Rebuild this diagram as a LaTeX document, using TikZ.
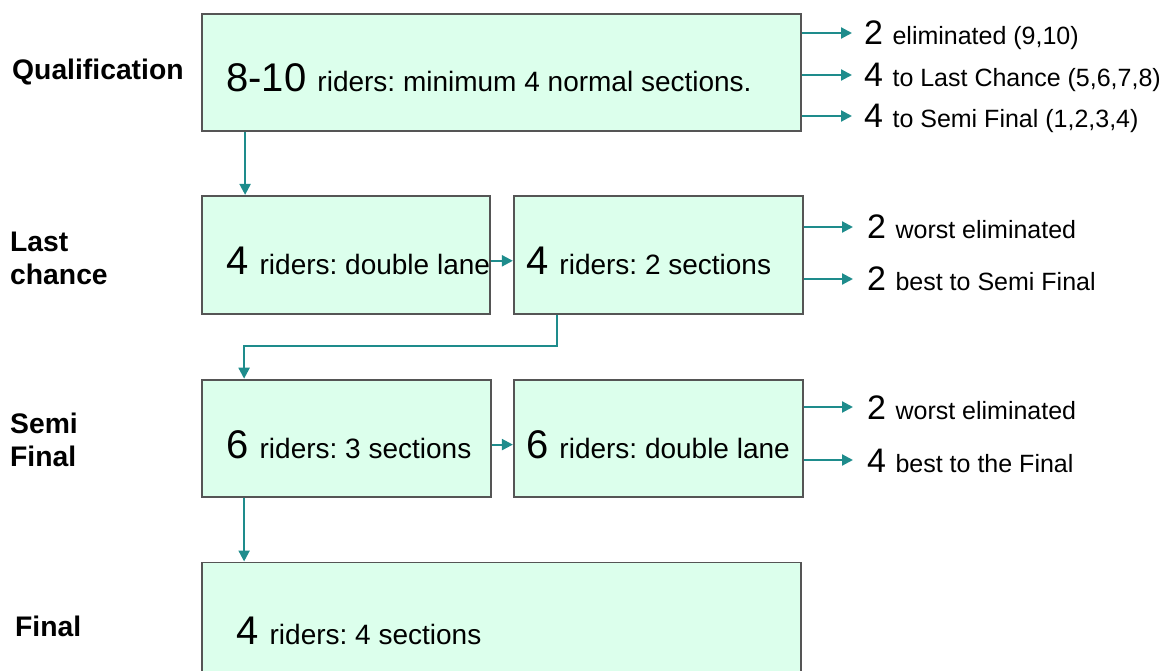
\documentclass[tikz,border=0pt]{standalone}
\usepackage{fontspec}
\setmainfont{Liberation Sans}
\usetikzlibrary{arrows.meta, positioning}
\definecolor{stagefill}{RGB}{220,255,236}
\definecolor{stageline}{RGB}{85,85,85}
\definecolor{flowteal}{RGB}{30,140,140}
\newcommand{\bignum}[1]{{\fontsize{40}{44}\selectfont #1 }}
\newcommand{\outnum}[1]{{\fontsize{34}{38}\selectfont #1 }}
\frenchspacing

\begin{document}
\begin{tikzpicture}[
        x=1pt, y=-1pt,
        stage/.style={rectangle, draw=stageline, fill=stagefill, line width=1.8pt, minimum height=117pt, inner sep=0pt},
        stagetxt/.style={anchor=west, inner sep=0pt, font=\fontsize{28}{32}\selectfont},
        outlbl/.style={anchor=west, inner sep=0pt, text height=24pt, text depth=0pt, font=\fontsize{25}{28}\selectfont},
        rowlbl/.style={anchor=west, inner sep=0pt, align=left, font=\bfseries\fontsize{28.3}{33}\selectfont},
        flow/.style={-{Triangle[length=11pt, width=11pt]}, line width=2.2pt, flowteal}
    ]
        \useasboundingbox (0,0) rectangle (1171,671);
        \clip (0,0) rectangle (1171,671);

        % stage boxes
        \node[stage, minimum width=599pt] (qual) at (501.5,72.5) {};
        \node[stage, minimum width=288pt, minimum height=118pt, below=63pt of qual.south west, anchor=north west] (lc1) {};
        \node[stage, minimum width=289pt, minimum height=118pt, right=22pt of lc1] (lc2) {};
        \node[stage, minimum width=289pt, below=64pt of lc1.south west, anchor=north west] (semi1) {};
        \node[stage, minimum width=289pt, right=21pt of semi1] (semi2) {};
        \node[stage, minimum width=599pt, minimum height=150pt, below=64pt of semi1.south west, anchor=north west] (final) {};

        % texts in the boxes
        \node[stagetxt] (qualtxt) at ([xshift=25pt, yshift=-5.5pt]qual.west) {\bignum{8-10}riders: minimum 4 normal sections.};
        \node[stagetxt] (lc1txt) at ([xshift=25pt, yshift=-6pt]lc1.west) {\bignum{4}riders: double lane};
        \node[stagetxt] (lc2txt) at ([xshift=13pt, yshift=-6pt]lc2.west) {\bignum{4}riders: 2 sections};
        \node[stagetxt] (semi1txt) at ([xshift=25pt, yshift=-6.5pt]semi1.west) {\bignum{6}riders: 3 sections};
        \node[stagetxt] (semi2txt) at ([xshift=13pt, yshift=-6.5pt]semi2.west) {\bignum{6}riders: double lane};
        \node[stagetxt] (finaltxt) at ([xshift=35pt, yshift=-69pt]final.north west) {\bignum{4}riders: 4 sections};

        % row labels
        \node[rowlbl] (rowqual) at (12,72) {Qualification};
        \node[rowlbl] (rowlc) at (10,258) {Last\\chance};
        \node[rowlbl] (rowsemi) at (10,440) {Semi\\Final};
        \node[rowlbl] (rowfinal) at (15,626) {Final};

        % outcomes
        \node[outlbl] (qelim) at (864,33) {\outnum{2}eliminated (9,10)};
        \node[outlbl] (qlast) at (864,75) {\outnum{4}to Last Chance (5,6,7,8)};
        \node[outlbl] (qsemi) at (864,116) {\outnum{4}to Semi Final (1,2,3,4)};
        \node[outlbl] (lcelim) at (867,227) {\outnum{2}worst eliminated};
        \node[outlbl] (lcsemi) at (867,279) {\outnum{2}best to Semi Final};
        \node[outlbl] (selim) at (867,407) {\outnum{2}worst eliminated};
        \node[outlbl] (sfinal) at (867,460) {\outnum{4}best to the Final};

        % flow between stages
        \draw[flow] ([xshift=44pt]qual.south west) -- ([xshift=44pt]lc1.north west);
        \draw[flow] (lc1.east |- lc1txt) -- (lc2.west |- lc1txt);
        \draw[flow] ([xshift=44pt]lc2.south west) -- ++(0,31) -| ([xshift=43pt]semi1.north west);
        \draw[flow] (semi1.east |- semi1txt) -- (semi2.west |- semi1txt);
        \draw[flow] ([xshift=43pt]semi1.south west) -- ([xshift=43pt]final.north west);

        \draw[flow, shorten >=12pt] (qual.east |- qelim) -- (qelim.west);
        \draw[flow, shorten >=12pt] (qual.east |- qlast) -- (qlast.west);
        \draw[flow, shorten >=12pt] (qual.east |- qsemi) -- (qsemi.west);
        \draw[flow, shorten >=14pt] (lc2.east |- lcelim) -- (lcelim.west);
        \draw[flow, shorten >=14pt] (lc2.east |- lcsemi) -- (lcsemi.west);
        \draw[flow, shorten >=14pt] (semi2.east |- selim) -- (selim.west);
        \draw[flow, shorten >=14pt] (semi2.east |- sfinal) -- (sfinal.west);
    \end{tikzpicture}
\end{document}
